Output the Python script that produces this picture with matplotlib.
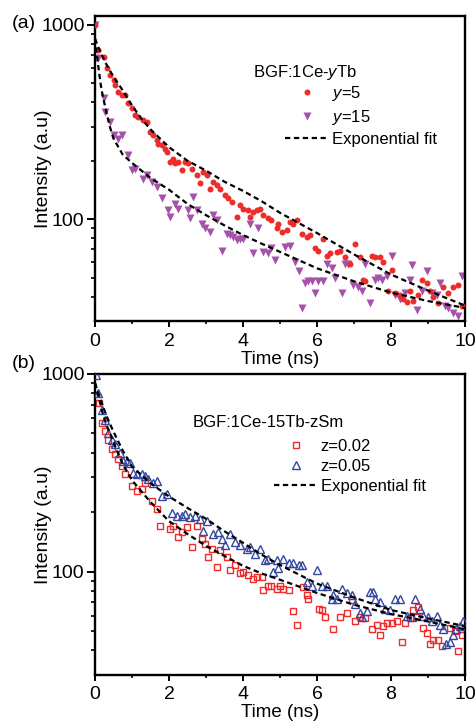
import matplotlib
matplotlib.use("Agg")
import matplotlib.pyplot as plt
from matplotlib.lines import Line2D
from matplotlib.ticker import FixedLocator, NullFormatter

plt.rcParams["font.family"] = ["Liberation Sans", "DejaVu Sans"]
plt.rcParams["mathtext.fontset"] = "custom"
plt.rcParams["mathtext.rm"] = "Liberation Sans"
plt.rcParams["mathtext.it"] = "Liberation Sans:italic"

# ---- panel (a): BGF:1Ce-yTb ----
t_y5 = [0.0, 0.09, 0.23, 0.32, 0.41, 0.50, 0.54, 0.63, 0.72, 0.81, 0.90, 0.99, 1.08, 1.17,
        1.31, 1.40, 1.49, 1.58, 1.67, 1.71, 1.80, 1.89, 1.94, 2.03, 2.12, 2.16, 2.25, 2.34,
        2.43, 2.52, 2.61, 2.75, 2.84, 2.93, 3.02, 3.11, 3.20, 3.29, 3.38, 3.51, 3.60, 3.69,
        3.83, 3.92, 4.01, 4.14, 4.19, 4.28, 4.37, 4.46, 4.55, 4.68, 4.77, 4.91, 4.95, 5.05,
        5.18, 5.27, 5.36, 5.45, 5.59, 5.72, 5.81, 5.95, 6.04, 6.17, 6.26, 6.35, 6.53, 6.62,
        6.76, 6.89, 7.03, 7.16, 7.25, 7.30, 7.48, 7.57, 7.70, 7.79, 7.93, 8.02, 8.11, 8.24,
        8.33, 8.42, 8.51, 8.60, 8.74, 8.83, 8.96, 9.05, 9.14, 9.28, 9.41, 9.55, 9.68, 9.82,
        9.91]
i_y5 = [1000, 743, 687, 598, 552, 520, 490, 453, 435, 435, 394, 372, 343, 337,
        323, 317, 282, 271, 255, 245, 241, 231, 222, 198, 205, 194, 198, 179,
        198, 194, 182, 169, 153, 175, 169, 144, 156, 150, 144, 133, 128, 123,
        103, 118, 113, 111, 103, 109, 111, 113, 105, 101, 99, 90, 95, 86,
        88, 97, 95, 99, 84, 81, 83, 71, 69, 79, 65, 67, 68, 69,
        64, 59, 75, 64, 49, 48, 65, 64, 64, 60, 43, 55, 42, 41,
        39, 37.5, 43, 38, 41, 49, 47, 43, 40, 37, 45, 42, 45, 46,
        36]

t_y15 = [0.0, 0.09, 0.23, 0.27, 0.41, 0.50, 0.63, 0.72, 0.90, 0.99, 1.08, 1.31, 1.40, 1.53,
         1.67, 1.80, 1.98, 2.03, 2.16, 2.25, 2.52, 2.57, 2.66, 2.75, 2.88, 2.97, 3.11, 3.20,
         3.29, 3.42, 3.56, 3.65, 3.74, 3.83, 3.92, 4.01, 4.19, 4.28, 4.41, 4.55, 4.68, 4.77,
         4.86, 5.14, 5.27, 5.41, 5.50, 5.59, 5.68, 5.77, 5.86, 5.95, 6.04, 6.17, 6.26, 6.40,
         6.49, 6.67, 6.76, 6.85, 6.98, 7.12, 7.21, 7.30, 7.43, 7.57, 7.66, 7.75, 7.88, 8.02,
         8.11, 8.24, 8.38, 8.51, 8.56, 8.69, 8.83, 8.96, 9.10, 9.23, 9.32, 9.46, 9.55, 9.68,
         9.82, 9.91]
i_y15 = [1000, 673, 419, 357, 317, 271, 260, 271, 214, 179, 182, 162, 169, 156,
         147, 128, 111, 103, 120, 113, 111, 101, 130, 111, 95, 90, 86, 105,
         99, 69, 84, 83, 81, 78, 79, 79, 95, 67, 90, 68, 67, 71,
         62, 72, 73, 60, 54, 35, 47, 48, 48, 42, 48, 48, 59, 56,
         50, 42, 59, 59, 46, 45, 43, 59, 37, 48.5, 50, 49, 51, 65,
         41, 39, 42, 49, 58, 34, 43, 54, 42, 41, 47, 36, 35, 33,
         32, 51]

t_fit_a1 = [0, 0.1, 0.2, 0.3, 0.5, 0.75, 1.0, 1.25, 1.5, 2.0, 2.5, 3.0, 3.5, 4.0, 4.5, 5.0,
            6.0, 7.0, 8.0, 9.0, 10.0]
i_fit_a1 = [850, 760, 690, 630, 540, 460, 385, 330, 290, 235, 200, 178, 156, 140, 124, 108,
            85, 66, 52, 43, 36]
t_fit_a2 = [0, 0.05, 0.1, 0.15, 0.2, 0.3, 0.4, 0.5, 0.75, 1.0, 1.5, 2.0, 2.5, 3.0, 3.5, 4.0,
            4.5, 5.0, 6.0, 7.0, 8.0, 9.0, 10.0]
i_fit_a2 = [850, 700, 590, 500, 440, 360, 300, 260, 215, 195, 163, 142, 120, 105, 93, 83,
            75, 68, 56, 48, 42, 38, 35]

# ---- panel (b): BGF:1Ce-15Tb-zSm ----
t_z002 = [0.12, 0.18, 0.27, 0.36, 0.45, 0.54, 0.63, 0.72, 0.81, 0.99, 1.13, 1.26, 1.35, 1.53,
          1.67, 1.76, 2.03, 2.12, 2.25, 2.34, 2.48, 2.61, 2.75, 2.88, 2.97, 3.06, 3.15, 3.29,
          3.38, 3.56, 3.65, 3.78, 3.92, 4.01, 4.14, 4.28, 4.37, 4.50, 4.55, 4.68, 4.77, 4.91,
          5.00, 5.09, 5.23, 5.36, 5.45, 5.63, 5.72, 5.77, 6.05, 6.14, 6.22, 6.44, 6.62, 6.81,
          6.94, 7.03, 7.16, 7.30, 7.48, 7.61, 7.70, 7.79, 7.88, 8.02, 8.15, 8.29, 8.38, 8.51,
          8.60, 8.69, 8.74, 8.87, 8.96, 9.05, 9.14, 9.28, 9.37, 9.59, 9.73, 9.82, 9.91]
i_z002 = [713, 565, 513, 466, 415, 392, 370, 342, 311, 272, 256, 261, 282, 228,
          207, 171, 164, 171, 149, 158, 168, 133, 171, 147, 138, 118, 130, 105,
          128, 118, 102, 108, 98, 99.6, 96, 92, 94, 94, 81, 85, 85, 82,
          85, 82, 81, 63, 54, 84, 76, 73, 65, 64, 59, 51, 59, 62,
          72, 56, 59, 58, 51, 54, 48, 53, 55, 55, 56, 44, 55, 58,
          64, 59, 66, 52, 49, 43, 45, 45, 42, 52, 50, 39.5, 48]

t_z005 = [0.03, 0.09, 0.18, 0.27, 0.36, 0.45, 0.54, 0.68, 0.77, 0.86, 0.95, 1.04, 1.13, 1.26,
          1.35, 1.44, 1.58, 1.67, 1.80, 1.94, 2.07, 2.21, 2.34, 2.43, 2.57, 2.70, 2.84, 2.93,
          3.02, 3.20, 3.33, 3.42, 3.51, 3.65, 3.78, 3.92, 4.10, 4.19, 4.32, 4.46, 4.59, 4.68,
          4.82, 4.91, 4.95, 5.09, 5.23, 5.36, 5.50, 5.59, 5.72, 5.86, 5.99, 6.13, 6.26, 6.40,
          6.44, 6.53, 6.67, 6.80, 6.94, 7.03, 7.16, 7.21, 7.34, 7.43, 7.52, 7.57, 7.70, 7.84,
          7.97, 8.11, 8.24, 8.42, 8.56, 8.65, 8.78, 8.87, 9.01, 9.10, 9.23, 9.32, 9.41, 9.50,
          9.59, 9.68, 9.77, 9.86, 9.95]
i_z005 = [988, 800, 659, 587, 503, 466, 440, 399, 363, 363, 356, 317, 311, 311,
          305, 293, 282, 288, 242, 247, 199, 192, 192, 195, 188, 192, 185, 161,
          181, 155, 158, 147, 136, 155, 141, 136, 130, 133, 123, 130, 114, 116,
          100, 114, 104, 116, 110, 110, 108, 108, 89, 85, 102, 85, 85, 73,
          76, 73, 82, 78, 76, 69, 62, 59, 63, 79, 79, 73, 70, 65,
          64, 73, 73, 60, 59, 73, 65, 60, 59, 56, 60, 54, 51, 43,
          44, 48, 51, 53, 56]

t_fit_b1 = [0, 0.1, 0.2, 0.3, 0.5, 0.75, 1.0, 1.5, 2.0, 2.5, 3.0, 3.5, 4.0, 4.5, 5.0, 6.0,
            7.0, 8.0, 9.0, 10.0]
i_fit_b1 = [900, 790, 700, 620, 510, 410, 340, 280, 240, 210, 185, 160, 140, 122, 108, 87,
            74, 64, 58, 53]
t_fit_b2 = [0, 0.1, 0.2, 0.3, 0.5, 0.75, 1.0, 1.5, 2.0, 2.5, 3.0, 3.5, 4.0, 4.5, 5.0, 6.0,
            7.0, 8.0, 9.0, 10.0]
i_fit_b2 = [900, 760, 640, 560, 450, 350, 290, 225, 180, 155, 135, 120, 107, 98, 91, 78,
            68, 61, 56, 51]

W, H = 475, 722
fig = plt.figure(figsize=(W / 100, H / 100), dpi=100)
ax1 = fig.add_axes([95 / W, 1 - 321 / H, 370 / W, 305 / H])
ax2 = fig.add_axes([95 / W, 1 - 675 / H, 370 / W, 301 / H])

fit_style = dict(color="black", lw=1.6, linestyle=(0, (2.4, 1.6)))

red = "#ee2c2a"
purple = "#a652ac"
blue = "#3548a0"

ax1.plot(t_y5, i_y5, "o", ms=4.3, color=red, mec="none", zorder=3)
ax1.plot(t_y15, i_y15, "v", ms=5.6, color=purple, mec="none", zorder=2)
ax1.plot(t_fit_a1, i_fit_a1, **fit_style, zorder=4)
ax1.plot(t_fit_a2, i_fit_a2, **fit_style, zorder=4)

ax2.plot(t_z002, i_z002, "s", ms=4.3, mfc="none", mec=red, mew=1.0, zorder=2)
ax2.plot(t_z005, i_z005, "^", ms=5.2, mfc="none", mec=blue, mew=1.0, zorder=3)
ax2.plot(t_fit_b1, i_fit_b1, **fit_style, zorder=4)
ax2.plot(t_fit_b2, i_fit_b2, **fit_style, zorder=4)

for ax, ytop, xpad in [(ax1, 1110, 4.5), (ax2, 1000, 3.8)]:
    ax.set_yscale("log")
    ax.set_xlim(0, 10)
    ax.set_ylim(30, ytop)
    ax.set_xticks([0, 2, 4, 6, 8, 10])
    ax.xaxis.set_minor_locator(FixedLocator([1, 3, 5, 7, 9]))
    ax.set_yticks([100, 1000])
    ax.set_yticklabels(["100", "1000"])
    ax.yaxis.set_minor_locator(FixedLocator([40, 50, 60, 70, 80, 90, 200, 300, 400, 500,
                                             600, 700, 800, 900]))
    ax.yaxis.set_minor_formatter(NullFormatter())
    ax.tick_params(axis="x", which="major", direction="out", length=4, width=1.4,
                   labelsize=14, pad=xpad)
    ax.tick_params(axis="x", which="minor", direction="out", length=2.2, width=1.2)
    ax.tick_params(axis="y", which="major", direction="out", length=6, width=1.4,
                   labelsize=14, pad=1.5)
    ax.tick_params(axis="y", which="minor", direction="out", length=3, width=1.2)
    ax.tick_params(top=False, right=False)
    for s in ax.spines.values():
        s.set_linewidth(1.7)
    ax.set_xlabel("Time (ns)", fontsize=13.5, labelpad=0.5)
    ax.set_ylabel("Intensity (a.u)", fontsize=14, va="center")
    ax.yaxis.set_label_coords(-0.138, 0.5)

# 面板标签
fig.text(12 / W, 1 - 23 / H, "(a)", fontsize=14, ha="left", va="center")
fig.text(12 / W, 1 - 363 / H, "(b)", fontsize=14, ha="left", va="center")

# 图例 (a)
fig.text(253 / W, 1 - 73 / H, "BGF:1Ce-$y$Tb", fontsize=12, ha="left", va="center")
h_a = [Line2D([], [], marker="o", ls="none", ms=4.3, color=red, mec="none"),
       Line2D([], [], marker="v", ls="none", ms=5.6, color=purple, mec="none"),
       Line2D([], [], **fit_style)]
ax1.legend(h_a, ["$y$=5", "$y$=15", "Exponential fit"], loc="upper left",
           bbox_to_anchor=(285 / W, 1 - 84 / H), bbox_transform=fig.transFigure,
           frameon=False, fontsize=12, borderpad=0, borderaxespad=0,
           handlelength=2.6, handletextpad=0.2, labelspacing=0.3, numpoints=1)

# 图例 (b)
fig.text(193 / W, 1 - 423 / H, "BGF:1Ce-15Tb-zSm", fontsize=12, ha="left", va="center")
h_b = [Line2D([], [], marker="s", ls="none", ms=4.3, mfc="none", mec=red, mew=1.0),
       Line2D([], [], marker="^", ls="none", ms=5.2, mfc="none", mec=blue, mew=1.0),
       Line2D([], [], **fit_style)]
ax2.legend(h_b, ["z=0.02", "z=0.05", "Exponential fit"], loc="upper left",
           bbox_to_anchor=(274 / W, 1 - 439 / H), bbox_transform=fig.transFigure,
           frameon=False, fontsize=12, borderpad=0, borderaxespad=0,
           handlelength=2.6, handletextpad=0.2, labelspacing=0.3, numpoints=1)

fig.savefig("out.png", dpi=100)
plt.close(fig)
